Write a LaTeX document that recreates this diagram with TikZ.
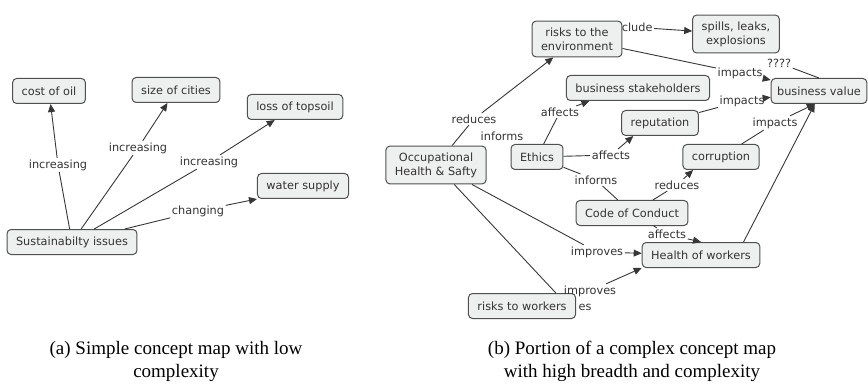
\documentclass[tikz,border=0pt]{standalone}
\usepackage{fontspec}
\setmainfont{Liberation Serif}
\newfontfamily\mapfont{DejaVu Sans}
\usetikzlibrary{arrows.meta}

\begin{document}
\begin{tikzpicture}[x=1pt, y=-1pt,
    concept/.style={draw=boxline, fill=boxfill, rounded corners=4pt, line width=1pt,
      text=maptext, font=\mapfont\fontsize{11.3}{14}\selectfont, align=center,
      inner xsep=9pt, inner ysep=6.5pt, minimum height=25pt},
    linkword/.style={text=maptext, font=\mapfont\fontsize{11.3}{14}\selectfont, inner sep=1.5pt},
    link/.style={draw=linkline, line width=0.9pt},
    caption/.style={font=\fontsize{19}{23}\selectfont, align=center},
    >={Triangle[length=8pt,width=7pt]}]

    % Define colors
    \definecolor{boxfill}{RGB}{237,240,238}
    \definecolor{boxline}{RGB}{80,80,80}
    \definecolor{maptext}{RGB}{51,51,51}
    \definecolor{linkline}{RGB}{55,55,55}

    % Page frame
    \useasboundingbox (0,0) rectangle (868,385);

    % Simple map: concepts
    \node[concept] (cost) at (49,91) {cost of oil};
    \node[concept] (cities) at (176,90) {size of cities};
    \node[concept] (topsoil) at (295,107) {loss of topsoil};
    \node[concept] (water) at (303,186) {water supply};
    \node[concept] (sust) at (72,242) {Sustainabilty issues};

    % Simple map: linking words
    \node[linkword] (inc1) at (58,165) {increasing};
    \node[linkword] (inc2) at (138,148) {increasing};
    \node[linkword] (inc3) at (209,162) {increasing};
    \node[linkword] (chg) at (198,211) {changing};

    % Simple map: links
    \draw[link] (sust) -- (inc1);
    \draw[link,->] (inc1) -- (cost);
    \draw[link] (sust) -- (inc2);
    \draw[link,->] (inc2) -- (cities);
    \draw[link] (sust) -- (inc3);
    \draw[link,->] (inc3) -- (topsoil);
    \draw[link] (sust) -- (chg);
    \draw[link,->] (chg) -- (water.south west);

    % Complex map: concepts
    \node[linkword] (incl) at (632,27) {include};
    \node[concept] (env) at (577,39) {risks to the\\environment};
    \node[concept] (spills) at (736,34) {spills, leaks,\\explosions};
    \node[concept] (stake) at (638,88) {business stakeholders};
    \node[concept, inner xsep=6pt] (value) at (819,91) {business value};
    \node[concept] (rep) at (660,123) {reputation};
    \node[concept] (corr) at (721,157) {corruption};
    \node[concept] (ethics) at (537,157) {Ethics};
    \node[concept] (ohs) at (436,165) {Occupational\\Health \& Safty};
    \node[concept] (coc) at (632,213) {Code of Conduct};
    \node[concept] (health) at (701,255) {Health of workers};
    \node[concept] (rw) at (522,306) {risks to workers};

    % Complex map: linking words
    \node[linkword] (red1) at (474,119) {reduces};
    \node[linkword] (inf1) at (502,136) {informs};
    \node[linkword] (aff1) at (560,112) {affects};
    \node[linkword] (aff2) at (611,155) {affects};
    \node[linkword] (inf2) at (596,180) {informs};
    \node[linkword] (red2) at (677,185) {reduces};
    \node[linkword] (aff3) at (667,234) {affects};
    \node[linkword] (imp1) at (597,252) {improves};
    \node[linkword] (imp2) at (590,291) {improves};
    \node[linkword] (es) at (585,307) {es};
    \node[linkword] (impA) at (740,73) {impacts};
    \node[linkword] (impB) at (742,101) {impacts};
    \node[linkword] (impC) at (775,123) {impacts};
    \node[linkword] (qq) at (779,63) {????};

    % Complex map: links
    \draw[link,->] (incl) -- (spills);
    \draw[link] (ohs) -- (red1);
    \draw[link,->] (red1) -- (env);
    \draw[link] (ethics) -- (aff1);
    \draw[link,->] (aff1) -- (stake.-165);
    \draw[link] (ethics) -- (aff2);
    \draw[link,->] (aff2) -- (rep.-154);
    \draw[link] (ethics) -- (inf2);
    \draw[link] (inf2) -- (coc);
    \draw[link] (coc) -- (red2);
    \draw[link,->] (red2) -- (corr.-155);
    \draw[link] (coc) -- (aff3);
    \draw[link,->] (aff3) -- (health.north);
    \draw[link] (ohs) -- (imp1);
    \draw[link,->] (imp1) -- (health);
    \draw[link,->] (imp2) -- (health.south west);
    \draw[link] (ohs) -- (rw.21);
    \draw[link] (env) -- (impA);
    \draw[link,->] (impA) -- (value);
    \draw[link] (rep) -- (impB);
    \draw[link,->] (impB) -- (value);
    \draw[link] (corr) -- (impC);
    \draw[link,->] (impC) -- (value.-108);
    \draw[link] (qq) -- (value.north);
    \draw[link,->] (health.17) -- (value.-108);

    % Captions
    \node[caption] (capa) at (176,361) {(a) Simple concept map with low\\complexity};
    \node[caption] (capb) at (632,361) {(b) Portion of a complex concept map\\with high breadth and complexity};

\end{tikzpicture}
\end{document}
